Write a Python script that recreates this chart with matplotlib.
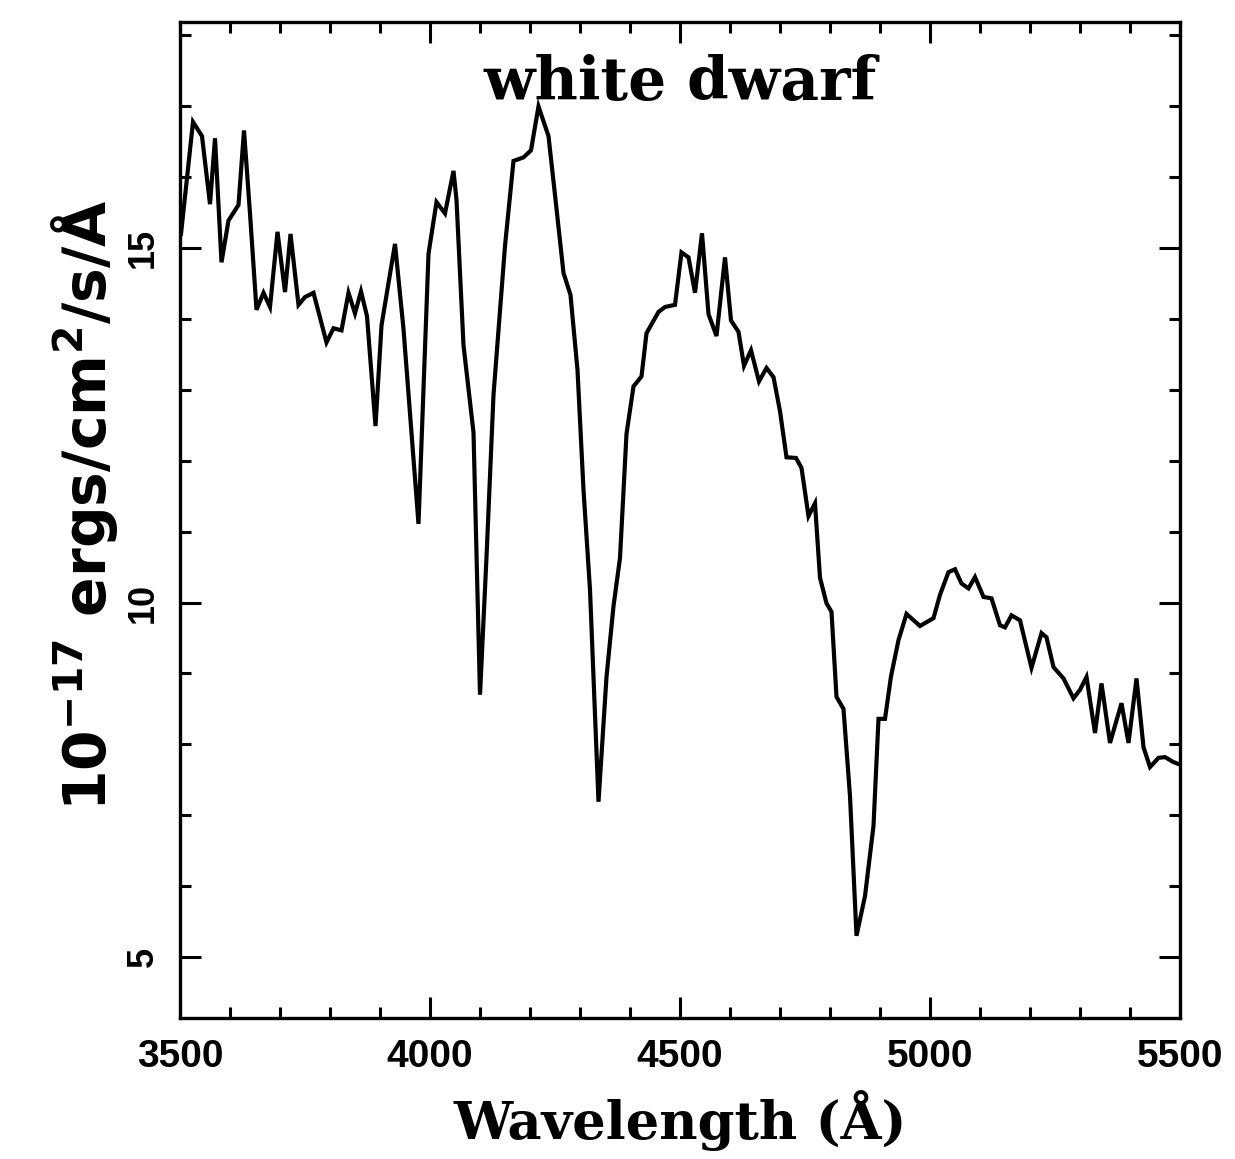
import matplotlib
matplotlib.use("Agg")
import matplotlib.pyplot as plt
from matplotlib.ticker import MultipleLocator

# Spectrum
wavelength = [3502, 3526, 3544, 3560, 3570, 3583, 3597, 3617, 3628, 3640,
              3653, 3667, 3680, 3695, 3710, 3721, 3737, 3750, 3767, 3793,
              3807, 3823, 3837, 3850, 3862, 3874, 3891, 3903, 3930, 3947,
              3977, 3997, 4013, 4030, 4047, 4053, 4067, 4087, 4100, 4113,
              4127, 4150, 4167, 4187, 4202, 4217, 4237, 4250, 4267, 4281,
              4295, 4307, 4320, 4337, 4353, 4367, 4380, 4393, 4407, 4423,
              4433, 4457, 4470, 4490, 4503, 4517, 4530, 4544, 4557, 4573,
              4590, 4602, 4617, 4628, 4642, 4658, 4673, 4687, 4700, 4713,
              4732, 4743, 4757, 4770, 4780, 4793, 4803, 4813, 4827, 4840,
              4853, 4870, 4887, 4897, 4910, 4922, 4937, 4953, 4980, 5007,
              5020, 5037, 5050, 5063, 5077, 5090, 5107, 5123, 5140, 5150,
              5163, 5180, 5203, 5223, 5233, 5247, 5267, 5287, 5300, 5313,
              5330, 5343, 5360, 5383, 5397, 5413, 5427, 5440, 5457, 5470,
              5487, 5498]
flux = [15.20, 16.78, 16.58, 15.62, 16.55, 14.80, 15.39, 15.61, 16.66, 15.49,
        14.13, 14.37, 14.17, 15.23, 14.38, 15.20, 14.20, 14.31, 14.37, 13.67,
        13.87, 13.84, 14.37, 14.08, 14.39, 14.04, 12.49, 13.91, 15.06, 13.86,
        11.11, 14.92, 15.65, 15.49, 16.09, 15.68, 13.63, 12.40, 8.70, 10.64,
        12.93, 15.03, 16.23, 16.28, 16.38, 17.00, 16.58, 15.75, 14.65, 14.34,
        13.28, 11.59, 10.18, 7.19, 8.95, 9.95, 10.63, 12.38, 13.05, 13.19,
        13.80, 14.10, 14.17, 14.20, 14.94, 14.87, 14.37, 15.21, 14.07, 13.76,
        14.87, 13.98, 13.82, 13.34, 13.56, 13.12, 13.31, 13.18, 12.70, 12.05,
        12.04, 11.90, 11.22, 11.40, 10.35, 9.99, 9.87, 8.67, 8.50, 7.27,
        5.30, 5.86, 6.85, 8.36, 8.36, 8.96, 9.47, 9.84, 9.67, 9.78,
        10.11, 10.43, 10.47, 10.27, 10.20, 10.36, 10.08, 10.06, 9.68, 9.65,
        9.82, 9.75, 9.08, 9.57, 9.51, 9.09, 8.93, 8.65, 8.77, 8.95,
        8.16, 8.86, 8.02, 8.58, 8.02, 8.93, 7.96, 7.68, 7.81, 7.82,
        7.75, 7.72]

x_ticks = [3500, 4000, 4500, 5000, 5500]
x_ticklabels = ["3500", "4000", "4500", "5000", "5500"]
y_ticks = [5, 10, 15]
y_ticklabels = ["5", "10", "15"]
title_text = "white dwarf"
x_label = "Wavelength (Å)"
y_label = r"10$^{-17}$ ergs/cm$^{2}$/s/Å"

plt.rcParams["mathtext.fontset"] = "custom"
plt.rcParams["mathtext.rm"] = "DejaVu Sans:bold"
plt.rcParams["mathtext.it"] = "DejaVu Sans:bold"
plt.rcParams["mathtext.bf"] = "DejaVu Sans:bold"

fig = plt.figure(figsize=(12.35, 11.59), dpi=100)
ax = fig.add_axes([180 / 1235, 1 - 1018 / 1159, 1000 / 1235, 996 / 1159])

ax.plot(wavelength, flux, color="black", lw=3.0, solid_joinstyle="miter")

ax.set_xlim(3500, 5500)
ax.set_ylim(4.14, 18.19)

ax.set_xticks(x_ticks)
ax.set_xticklabels(x_ticklabels)
ax.set_yticks(y_ticks)
ax.set_yticklabels(y_ticklabels, rotation=90, va="center")
ax.xaxis.set_minor_locator(MultipleLocator(100))
ax.yaxis.set_minor_locator(MultipleLocator(1))

ax.tick_params(which="both", direction="in", top=True, right=True, width=2.2)
ax.tick_params(which="major", length=15)
ax.tick_params(which="minor", length=8)
ax.tick_params(axis="x", which="major", pad=15)
ax.tick_params(axis="y", which="major", pad=14)
for lab in ax.get_xticklabels():
    lab.set_fontfamily("Liberation Sans")
    lab.set_fontweight("bold")
    lab.set_fontsize(28)
for lab in ax.get_yticklabels():
    lab.set_fontfamily("Liberation Sans")
    lab.set_fontweight("bold")
    lab.set_fontsize(26)

for sp in ax.spines.values():
    sp.set_linewidth(2.4)

ax.text(0.5, 0.9217, title_text, transform=ax.transAxes, ha="center",
        va="baseline", fontsize=43, fontweight="bold", family="DejaVu Serif")

ax.set_xlabel(x_label, fontsize=38, fontweight="bold", family="DejaVu Serif")
ax.xaxis.set_label_coords(0.5, -0.072)
ax.xaxis.label.set_va("top")

fig.text(85 / 1235, 1 - 505 / 1159, y_label, rotation=90, ha="center",
         va="center", fontsize=42, fontweight="bold", family="DejaVu Sans")

fig.savefig("out.png", dpi=100, facecolor="white")
